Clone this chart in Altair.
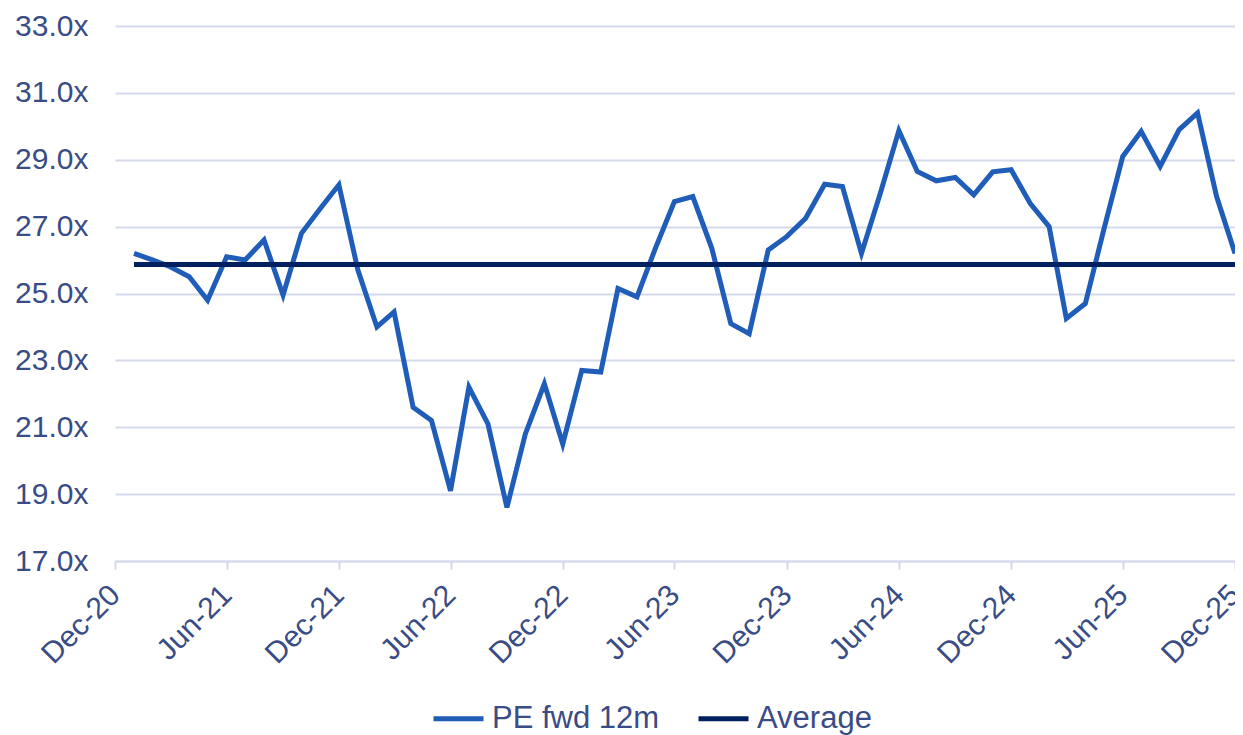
import altair as alt
import pandas as pd

# Monthly observations Jan-21 .. Dec-25
pe_2021 = [26.2, 26.0, 25.8, 25.5, 24.8, 26.1, 26.0, 26.6, 24.95, 26.8, 27.55, 28.25]
pe_2022 = [25.7, 24.0, 24.45, 21.6, 21.2, 19.1, 22.2, 21.1, 18.6, 20.8, 22.3, 20.5]
pe_2023 = [22.7, 22.65, 25.15, 24.9, 26.35, 27.75, 27.9, 26.35, 24.1, 23.8, 26.3, 26.7]
pe_2024 = [27.25, 28.27, 28.2, 26.2, 27.95, 29.87, 28.65, 28.37, 28.47, 27.95, 28.64, 28.7]
pe_2025 = [27.7, 27.0, 24.25, 24.7, 26.9, 29.1, 29.85, 28.8, 29.9, 30.4, 27.9, 26.2]
average_value = 25.87

series_names = ["PE fwd 12m", "Average"]
series_colors = ["#1F5DB9", "#00205F"]
y_ticks = [17, 19, 21, 23, 25, 27, 29, 31, 33]
x_tick_years = [2020, 2021, 2021, 2022, 2022, 2023, 2023, 2024, 2024, 2025, 2025]
x_tick_months = [12, 6, 12, 6, 12, 6, 12, 6, 12, 6, 12]

pe_values = pe_2021 + pe_2022 + pe_2023 + pe_2024 + pe_2025
dates = [d.strftime("%Y-%m-%d") for d in pd.date_range("2021-01-01", periods=len(pe_values), freq="MS")]

pe_df = pd.DataFrame({"date": dates, "value": pe_values, "series": series_names[0]})
avg_df = pd.DataFrame({"date": dates, "value": [average_value] * len(dates), "series": series_names[1]})

TEXT = "#3A4C85"
GRID = "#D6D9EB"
FONT = "Liberation Sans"

x_enc = alt.X(
    "date:T",
    scale=alt.Scale(
        type="utc",
        domain=[alt.DateTime(year=2020, month=12, date=1, utc=True),
                alt.DateTime(year=2025, month=12, date=1, utc=True)],
    ),
    axis=alt.Axis(
        values=[alt.DateTime(year=y, month=m, date=1, utc=True) for y, m in zip(x_tick_years, x_tick_months)],
        labelExpr="utcFormat(datum.value, '%b-%y')",
        labelAngle=315,
        labelAlign="right",
        labelBaseline="middle",
        labelPadding=21,
        labelFontSize=30,
        labelColor=TEXT,
        labelFont=FONT,
        labelOverlap=False,
        labelBound=False,
        labelFlush=False,
        tickSize=8,
        tickWidth=2,
        tickColor=GRID,
        domainColor=GRID,
        domainWidth=2,
        grid=False,
        title=None,
    ),
)

y_enc = alt.Y(
    "value:Q",
    scale=alt.Scale(domain=[17, 33], nice=False, zero=False),
    axis=alt.Axis(
        values=y_ticks,
        labelExpr="format(datum.value, '.1f') + 'x'",
        labelFontSize=30,
        labelColor=TEXT,
        labelFont=FONT,
        labelPadding=27,
        ticks=False,
        domain=False,
        grid=True,
        gridColor=GRID,
        gridWidth=2,
        title=None,
    ),
)

color_enc = alt.Color(
    "series:N",
    scale=alt.Scale(domain=series_names, range=series_colors),
    legend=alt.Legend(
        orient="none",
        legendX=316,
        legendY=665,
        direction="horizontal",
        title=None,
        symbolType="stroke",
        symbolSize=2500,
        symbolStrokeWidth=5,
        labelFontSize=31,
        labelColor=TEXT,
        labelFont=FONT,
        labelOffset=6,
        columnPadding=28,
        labelLimit=400,
    ),
)

pe_line = alt.Chart(pe_df).mark_line(strokeWidth=5).encode(x=x_enc, y=y_enc, color=color_enc)
avg_line = alt.Chart(avg_df).mark_line(strokeWidth=5).encode(x=x_enc, y=y_enc, color=color_enc)

chart = (
    alt.layer(pe_line, avg_line)
    .properties(
        width=1120,
        height=535,
        autosize=alt.AutoSizeParams(type="none"),
        padding={"left": 107, "top": 18, "right": 0, "bottom": 174},
    )
    .configure(font=FONT)
    .configure_view(stroke=None)
)

chart.save("out.html", embed_options={"renderer": "svg", "actions": False})
